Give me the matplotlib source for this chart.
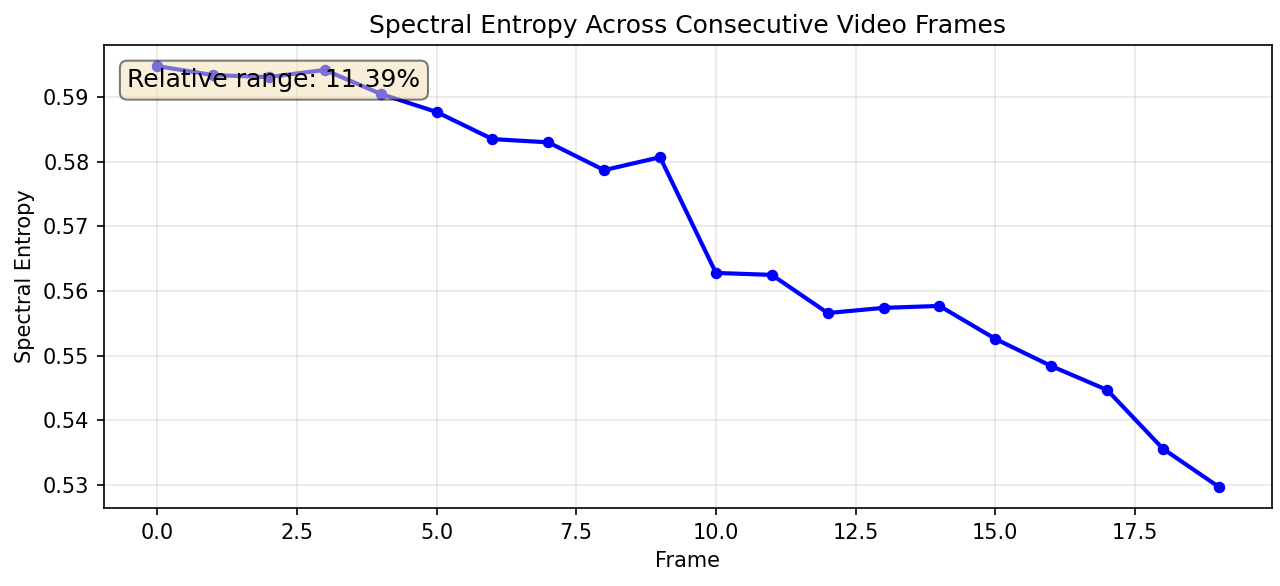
import matplotlib
matplotlib.use("Agg")
import matplotlib.pyplot as plt
import numpy as np

frames = np.arange(20)
entropy = [0.5948, 0.5934, 0.5931, 0.5942, 0.5905, 0.5877, 0.5835, 0.5830, 0.5787, 0.5807,
           0.5628, 0.5625, 0.5566, 0.5574, 0.5577, 0.5526, 0.5484, 0.5447, 0.5356, 0.5297]
range_label = "Relative range: 11.39%"

fig = plt.figure(figsize=(1281 / 150, 586 / 150), dpi=150)
ax = fig.add_axes([104 / 1281, 1 - 508 / 586, (1272 - 104) / 1281, (508 - 45) / 586])

ax.plot(frames, entropy, "o-", color="blue", linewidth=2, markersize=4.5)
ax.grid(True, alpha=0.3)
ax.set_xlabel("Frame")
ax.set_ylabel("Spectral Entropy")
ax.set_title("Spectral Entropy Across Consecutive Video Frames")
ax.text(0.02, 0.95, range_label, transform=ax.transAxes, fontsize=12, va="top",
        bbox=dict(boxstyle="round", facecolor="wheat", alpha=0.5))

fig.savefig("out.png", dpi=150)
